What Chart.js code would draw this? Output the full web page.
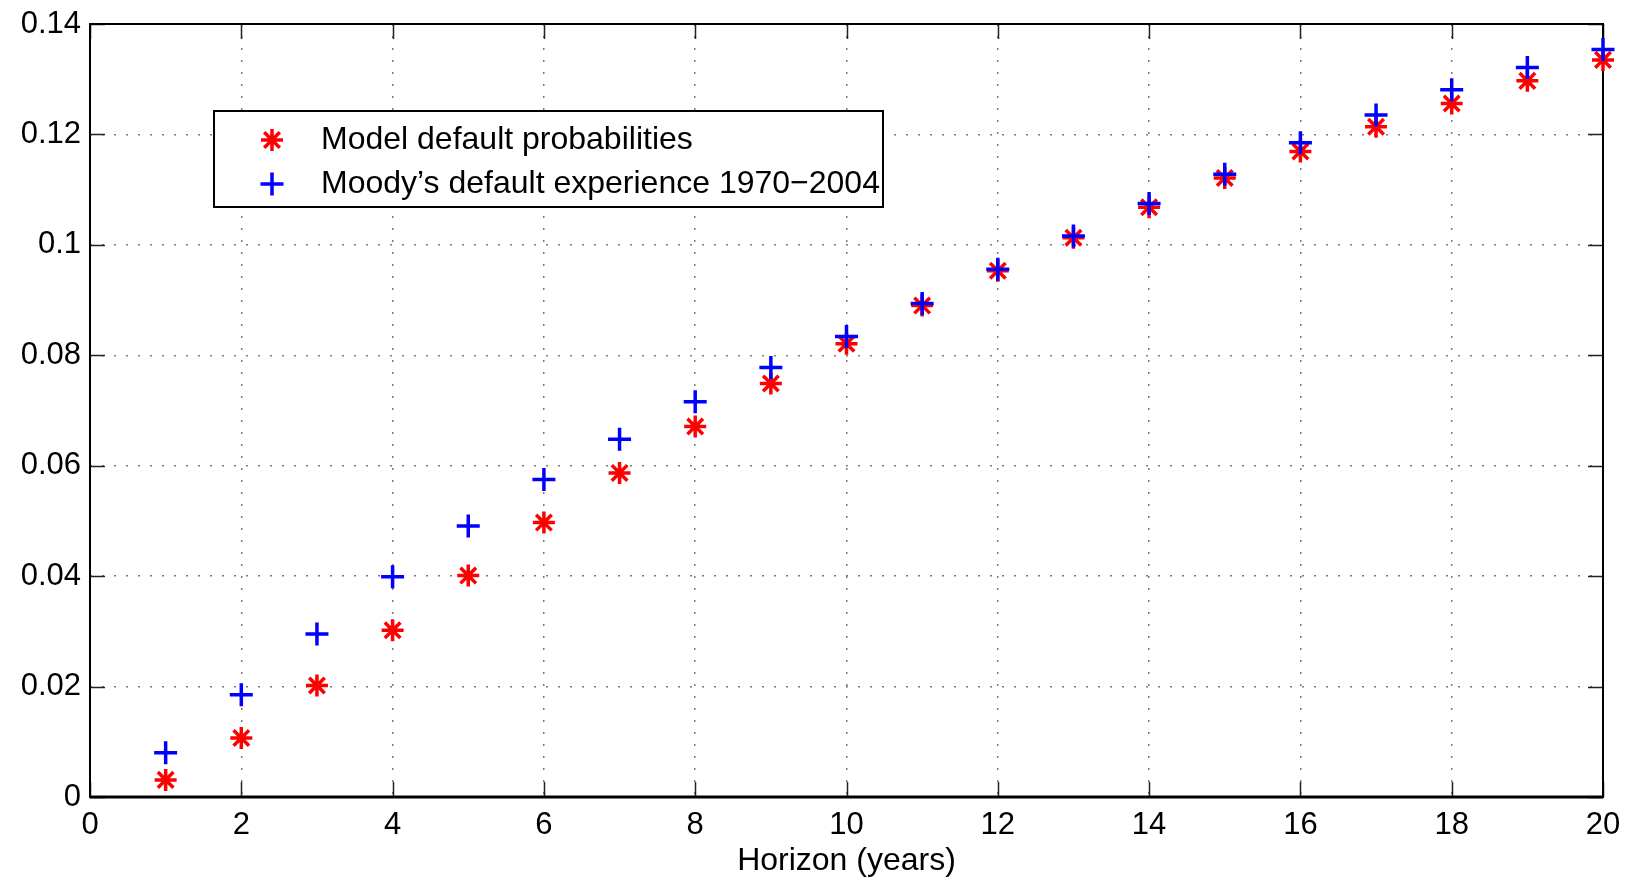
<!DOCTYPE html>
<html>
<head>
<meta charset="utf-8">
<script src="https://cdn.jsdelivr.net/npm/chart.js@4/dist/chart.umd.min.js"></script>
<style>
  html, body { margin: 0; padding: 0; background: #ffffff; }
  #wrap { width: 1627px; height: 880px; position: relative; }
</style>
</head>
<body>
<div id="wrap"><canvas id="c" width="1627" height="880"></canvas></div>
<script>
// Cumulative default probability by horizon
const horizons = [1, 2, 3, 4, 5, 6, 7, 8, 9, 10, 11, 12, 13, 14, 15, 16, 17, 18, 19, 20];
const modelPD = [0.0031, 0.0107, 0.0202, 0.0302, 0.0401, 0.0497, 0.0587, 0.0671, 0.0749, 0.0821,
                 0.0890, 0.0953, 0.1013, 0.1068, 0.1121, 0.1169, 0.1214, 0.1256, 0.1297, 0.1335];
const moodysPD = [0.0080, 0.0185, 0.0295, 0.0399, 0.0491, 0.0575, 0.0648, 0.0716, 0.0778, 0.0834,
                  0.0894, 0.0956, 0.1016, 0.1075, 0.1128, 0.1185, 0.1235, 0.1281, 0.1321, 0.1354];
const seriesNames = ['Model default probabilities', 'Moody\u2019s default experience 1970\u22122004'];
const xTickLabels = ['0', '2', '4', '6', '8', '10', '12', '14', '16', '18', '20'];
const yTickLabels = ['0', '0.02', '0.04', '0.06', '0.08', '0.1', '0.12', '0.14'];
const xTitle = 'Horizon (years)';

const FAMILY = "'Liberation Sans', Arial, Helvetica, sans-serif";
const TICK_FONT = { family: FAMILY, size: 31 };
const TEXT_FONT = { family: FAMILY, size: 32 };
const RED = '#ff0000';
const BLUE = '#0000ff';

const toPoints = (xs, ys) => xs.map((x, i) => ({ x: x, y: ys[i] }));

// Box frame with inward tick marks on all four sides, plus a boxed legend
const framePlugin = {
  id: 'frameTicksLegend',
  beforeDatasetsDraw(chart) {
    const { ctx, chartArea: a, scales } = chart;
    const tickLen = 15;
    ctx.save();
    ctx.strokeStyle = '#222';
    ctx.lineWidth = 1.5;
    ctx.beginPath();
    scales.x.ticks.forEach(t => {
      const px = Math.round(scales.x.getPixelForValue(t.value)) + 0.5;
      ctx.moveTo(px, a.bottom); ctx.lineTo(px, a.bottom - tickLen);
      ctx.moveTo(px, a.top); ctx.lineTo(px, a.top + tickLen);
    });
    scales.y.ticks.forEach(t => {
      const py = Math.round(scales.y.getPixelForValue(t.value)) + 0.5;
      ctx.moveTo(a.left, py); ctx.lineTo(a.left + tickLen, py);
      ctx.moveTo(a.right, py); ctx.lineTo(a.right - tickLen, py);
    });
    ctx.stroke();
    ctx.strokeStyle = '#000';
    ctx.lineWidth = 2;
    ctx.strokeRect(a.left, a.top, a.right - a.left, a.bottom - a.top);
    ctx.beginPath();
    ctx.lineWidth = 3;
    ctx.moveTo(a.left, a.bottom); ctx.lineTo(a.right, a.bottom);
    ctx.stroke();
    ctx.restore();
  },
  afterDraw(chart) {
    const { ctx } = chart;
    const box = { left: 214, top: 111, right: 883, bottom: 207 };
    ctx.save();
    ctx.fillStyle = '#ffffff';
    ctx.fillRect(box.left, box.top, box.right - box.left, box.bottom - box.top);
    ctx.strokeStyle = '#000';
    ctx.lineWidth = 2;
    ctx.strokeRect(box.left, box.top, box.right - box.left, box.bottom - box.top);
    const rowsY = [140, 184];
    chart.data.datasets.forEach((ds, i) => {
      ctx.strokeStyle = ds.pointBorderColor;
      ctx.fillStyle = ds.pointBackgroundColor;
      ctx.lineWidth = ds.pointBorderWidth;
      Chart.helpers.drawPoint(ctx, {
        pointStyle: ds.pointStyle, radius: ds.pointRadius,
        borderWidth: ds.pointBorderWidth, rotation: 0
      }, 272, rowsY[i]);
      ctx.fillStyle = '#000';
      ctx.font = TEXT_FONT.size + 'px ' + TEXT_FONT.family;
      ctx.textBaseline = 'middle';
      ctx.textAlign = 'left';
      ctx.fillText(ds.label, 321, rowsY[i]);
    });
    ctx.restore();
  }
};

new Chart(document.getElementById('c'), {
  type: 'scatter',
  data: {
    datasets: [
      {
        label: seriesNames[0],
        data: toPoints(horizons, modelPD),
        pointStyle: 'star',
        pointRadius: 11,
        pointHoverRadius: 11,
        pointBorderWidth: 3.5,
        pointBorderColor: RED,
        pointBackgroundColor: RED,
        borderColor: RED,
        backgroundColor: RED,
        order: 1,
        clip: false
      },
      {
        label: seriesNames[1],
        data: toPoints(horizons, moodysPD),
        pointStyle: 'cross',
        pointRadius: 11.5,
        pointHoverRadius: 11.5,
        pointBorderWidth: 3.5,
        pointBorderColor: BLUE,
        pointBackgroundColor: BLUE,
        borderColor: BLUE,
        backgroundColor: BLUE,
        order: 0,
        clip: false
      }
    ]
  },
  options: {
    responsive: false,
    animation: false,
    devicePixelRatio: 1,
    layout: { padding: { top: 24, right: 24, left: 0, bottom: 0 } },
    plugins: { legend: { display: false }, tooltip: { enabled: false } },
    scales: {
      x: {
        type: 'linear',
        min: 0, max: 20,
        afterFit(scale) {
          scale.height = 83;
          scale.paddingLeft = 0;
          scale.paddingRight = 0;
        },
        ticks: {
          stepSize: 2, autoSkip: false, maxRotation: 0, padding: 10,
          color: '#000', font: TICK_FONT,
          callback: (v, i) => xTickLabels[i]
        },
        grid: { color: '#7a7a7a', lineWidth: 1.5, drawTicks: false },
        border: { display: false, dash: [2, 10] },
        title: { display: true, text: xTitle, color: '#000', font: TEXT_FONT, padding: { top: 0, bottom: 0 } }
      },
      y: {
        type: 'linear',
        min: 0, max: 0.14,
        afterFit(scale) {
          scale.width = 90;
          scale.paddingTop = 0;
          scale.paddingBottom = 0;
        },
        ticks: {
          stepSize: 0.02, padding: 9,
          color: '#000', font: TICK_FONT,
          callback: (v, i) => yTickLabels[i]
        },
        grid: { color: '#7a7a7a', lineWidth: 1.5, drawTicks: false },
        border: { display: false, dash: [2, 10] }
      }
    }
  },
  plugins: [framePlugin]
});
</script>
</body>
</html>
